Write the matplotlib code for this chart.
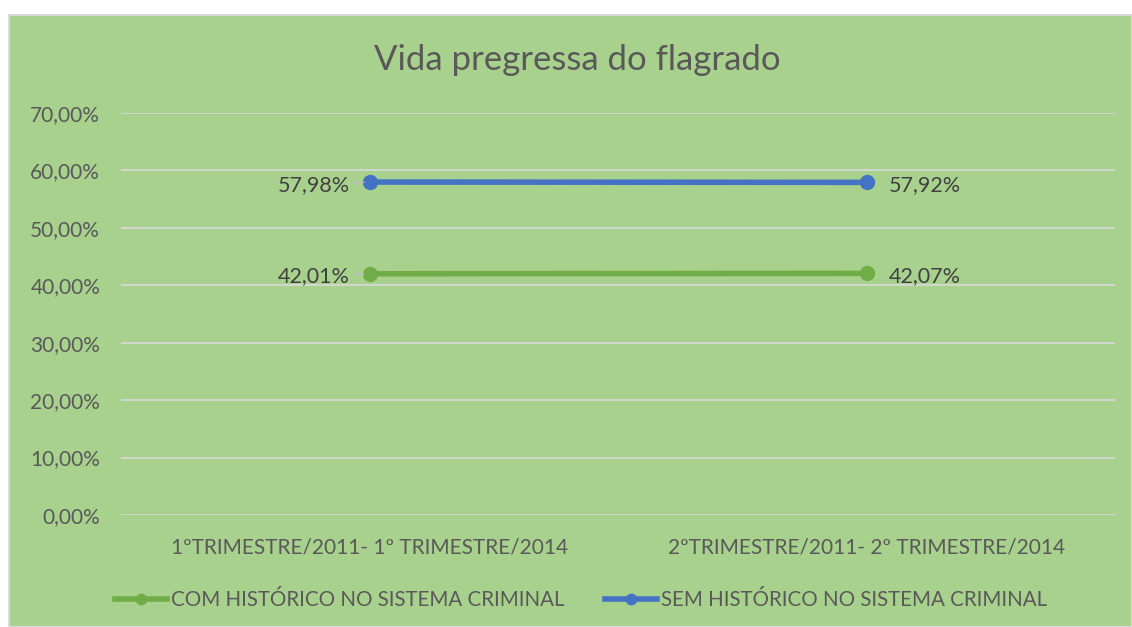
import matplotlib
matplotlib.use("Agg")
import matplotlib.pyplot as plt
from matplotlib.patches import Rectangle
from matplotlib.ticker import FuncFormatter

categories = ["1ºTRIMESTRE/2011- 1º TRIMESTRE/2014", "2ºTRIMESTRE/2011- 2º TRIMESTRE/2014"]
com_historico = [42.01, 42.07]
sem_historico = [57.98, 57.92]
series_names = ["COM HISTÓRICO NO SISTEMA CRIMINAL", "SEM HISTÓRICO NO SISTEMA CRIMINAL"]
y_ticks = [0, 10, 20, 30, 40, 50, 60, 70]

BG = "#A9D18E"
TXT = "#595959"
GRID = "#D9D9D9"
GREEN = "#70AD47"
BLUE = "#4472C4"

plt.rcParams["font.family"] = ["Lato", "DejaVu Sans"]

W, H = 1132, 627
fig = plt.figure(figsize=(W / 100, H / 100), dpi=100)
fig.patch.set_facecolor("white")
fig.add_artist(Rectangle((9 / W, 0), 1 - 9 / W, (H - 15) / H, transform=fig.transFigure,
                         facecolor=BG, edgecolor="#D9D9D9", lw=1.5, zorder=0))

ax = fig.add_axes([121 / W, 1 - 515 / H, (1115 - 121) / W, (515 - 113) / H])
ax.set_facecolor("none")
x = list(range(len(categories)))

ax.plot(x, com_historico, color=GREEN, lw=4, marker="o", ms=10, label=series_names[0], zorder=3)
ax.plot(x, sem_historico, color=BLUE, lw=4, marker="o", ms=10, label=series_names[1], zorder=3)

def fmt(v):
    return f"{v:.2f}%".replace(".", ",")

for series in (com_historico, sem_historico):
    ax.annotate(fmt(series[0]), (x[0], series[0]), xytext=(-14, -2), textcoords="offset points",
                ha="right", va="center", fontsize=15.5, color="#404040",
                arrowprops=dict(arrowstyle="-", color="#BFBFBF", lw=1, shrinkA=0, shrinkB=4))
    ax.annotate(fmt(series[1]), (x[1], series[1]), xytext=(16, -2), textcoords="offset points",
                ha="left", va="center", fontsize=15.5, color="#404040")

ax.set_xlim(-0.5, 1.5)
ax.set_ylim(0, 70)
ax.set_yticks(y_ticks)
ax.yaxis.set_major_formatter(FuncFormatter(lambda v, p: f"{v:.2f}%".replace(".", ",")))
ax.set_xticks(x)
ax.set_xticklabels(categories)
ax.tick_params(axis="both", length=0, labelsize=15, colors=TXT)
ax.tick_params(axis="x", pad=16)
ax.tick_params(axis="y", pad=15)
ax.grid(axis="y", color=GRID, lw=1.2)
ax.set_axisbelow(True)
for s in ax.spines.values():
    s.set_visible(False)

fig.text(577 / W, 1 - 60 / H, "Vida pregressa do flagrado", ha="center", va="center",
         fontsize=25, color=TXT)

leg = fig.legend(loc="center", bbox_to_anchor=(581 / W, 1 - 600 / H), ncol=2, frameon=False,
                 fontsize=14.8, labelcolor=TXT, handlelength=2.5, handletextpad=0.2,
                 columnspacing=2.0, markerscale=0.75)
for h in leg.legend_handles:
    h.set_linewidth(4)

fig.savefig("out.png", dpi=100)
